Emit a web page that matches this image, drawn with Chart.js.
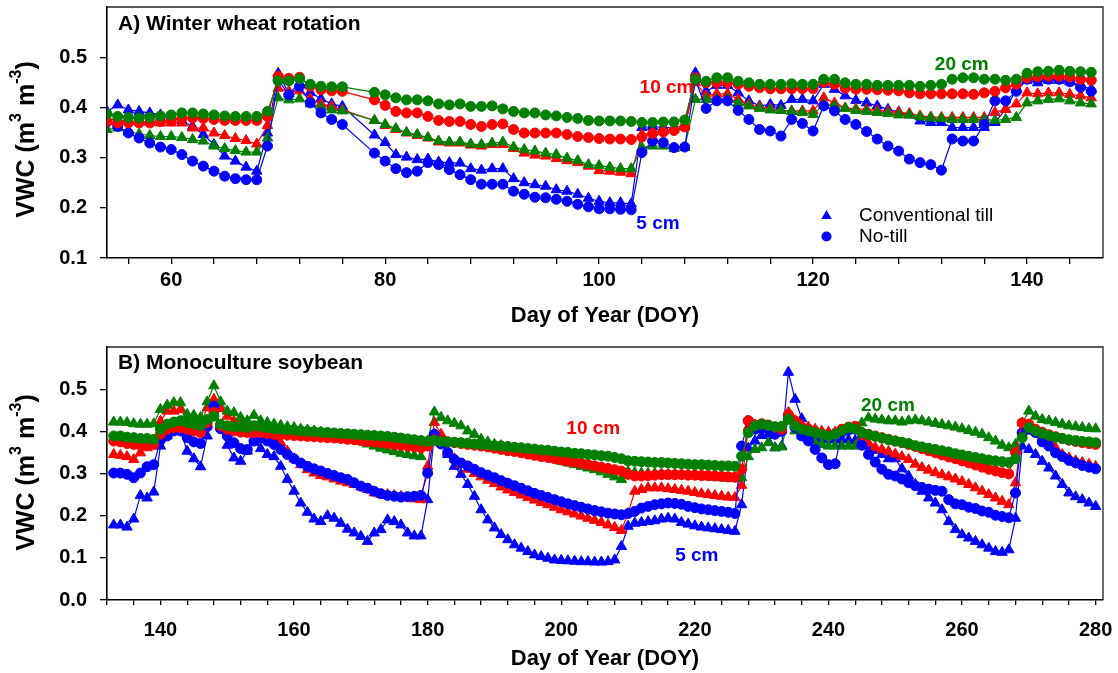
<!DOCTYPE html>
<html>
<head>
<meta charset="utf-8">
<script src="https://cdn.jsdelivr.net/npm/chart.js@4.4.1/dist/chart.umd.min.js"></script>
<style>
  body { margin: 0; background: #fff; width: 1118px; height: 673px; overflow: hidden; }
  .panel { position: absolute; left: 0; width: 1118px; }
  #wrapA { top: 0; height: 335px; }
  #wrapB { top: 335px; height: 338px; }
</style>
</head>
<body>
<div class="panel" id="wrapA"><canvas id="chartA" width="1118" height="335"></canvas></div>
<div class="panel" id="wrapB"><canvas id="chartB" width="1118" height="338"></canvas></div>
<script>
// ---- Panel A: winter wheat rotation (day of year, VWC m3/m3) ----
const daysA = [54,55,56,57,58,59,60,61,62,63,64,65,66,67,68,69,70,71,72,73,74,75,76,
  79,80,81,82,83,84,85,86,87,88,89,90,91,92,93,94,95,96,97,98,99,
  100,101,102,103,104,105,106,107,108,
  109,110,111,112,113,114,115,116,117,118,119,120,121,122,123,124,125,126,127,128,129,130,
  131,132,133,134,135,136,137,138,139,140,141,142,143,144,145,146];

const wheatNT20 = [0.387,0.382,0.380,0.379,0.380,0.383,0.385,0.389,0.389,0.387,0.385,0.383,0.382,0.382,0.382,0.392,0.453,0.453,0.457,0.446,0.442,0.441,0.441,
  0.430,0.425,0.419,0.415,0.415,0.413,0.407,0.405,0.407,0.402,0.402,0.403,0.397,0.392,0.389,0.389,0.385,0.383,0.380,0.378,0.374,
  0.373,0.373,0.373,0.372,0.370,0.370,0.371,0.371,0.375,
  0.456,0.452,0.459,0.459,0.452,0.449,0.446,0.446,0.446,0.447,0.446,0.446,0.456,0.456,0.449,0.446,0.446,0.444,0.444,0.444,0.444,0.442,
  0.444,0.446,0.456,0.459,0.459,0.456,0.456,0.454,0.456,0.468,0.471,0.472,0.474,0.472,0.471,0.470];
const wheatNT10 = [0.372,0.369,0.369,0.369,0.369,0.372,0.373,0.378,0.379,0.378,0.376,0.374,0.374,0.374,0.374,0.382,0.462,0.458,0.460,0.442,0.435,0.433,0.432,
  0.415,0.404,0.392,0.389,0.389,0.382,0.374,0.372,0.372,0.366,0.362,0.366,0.367,0.356,0.349,0.349,0.349,0.349,0.346,0.342,0.340,
  0.338,0.337,0.337,0.336,0.341,0.348,0.351,0.354,0.361,
  0.459,0.449,0.449,0.449,0.446,0.442,0.439,0.437,0.437,0.437,0.437,0.437,0.450,0.446,0.438,0.436,0.436,0.435,0.434,0.433,0.429,0.427,
  0.427,0.427,0.427,0.427,0.426,0.429,0.432,0.439,0.446,0.459,0.461,0.462,0.462,0.461,0.456,0.454];
const wheatNT5 = [0.371,0.362,0.349,0.339,0.329,0.321,0.316,0.306,0.293,0.283,0.273,0.263,0.258,0.256,0.256,0.323,0.455,0.425,0.442,0.409,0.389,0.376,0.366,
  0.309,0.293,0.278,0.270,0.273,0.290,0.286,0.276,0.266,0.256,0.247,0.247,0.247,0.233,0.227,0.221,0.220,0.217,0.213,0.207,0.202,
  0.198,0.198,0.197,0.196,0.310,0.333,0.330,0.320,0.321,
  0.455,0.398,0.413,0.413,0.394,0.376,0.356,0.353,0.343,0.376,0.368,0.353,0.403,0.393,0.376,0.366,0.352,0.337,0.323,0.313,0.297,0.290,
  0.286,0.275,0.337,0.333,0.333,0.366,0.413,0.413,0.432,0.456,0.456,0.456,0.456,0.451,0.440,0.432];
const wheatCT20 = [0.356,0.359,0.352,0.347,0.344,0.342,0.342,0.340,0.336,0.333,0.323,0.318,0.314,0.311,0.311,0.339,0.419,0.415,0.417,0.407,0.400,0.395,0.393,
  0.374,0.366,0.358,0.350,0.346,0.340,0.333,0.331,0.331,0.327,0.326,0.329,0.331,0.321,0.316,0.313,0.309,0.306,0.299,0.294,0.286,
  0.284,0.281,0.278,0.278,0.320,0.323,0.323,0.318,0.320,
  0.416,0.416,0.416,0.418,0.409,0.403,0.398,0.395,0.394,0.392,0.390,0.386,0.406,0.403,0.398,0.394,0.392,0.390,0.388,0.385,0.385,0.381,
  0.379,0.378,0.376,0.376,0.376,0.376,0.374,0.376,0.380,0.409,0.413,0.416,0.417,0.413,0.409,0.407];
const wheatCT10 = [0.376,0.376,0.372,0.372,0.370,0.369,0.369,0.369,0.359,0.359,0.349,0.344,0.338,0.334,0.327,0.364,0.438,0.432,0.433,0.417,0.407,0.402,0.395,
  0.374,0.364,0.356,0.349,0.344,0.339,0.331,0.329,0.329,0.325,0.323,0.326,0.326,0.318,0.309,0.305,0.303,0.298,0.294,0.290,0.283,
  0.274,0.273,0.271,0.268,0.346,0.350,0.353,0.356,0.361,
  0.449,0.423,0.427,0.427,0.416,0.406,0.401,0.398,0.394,0.393,0.393,0.393,0.419,0.409,0.399,0.397,0.396,0.394,0.392,0.390,0.388,0.383,
  0.381,0.380,0.380,0.380,0.380,0.380,0.390,0.396,0.407,0.429,0.427,0.429,0.429,0.426,0.423,0.419];
const wheatCT5 = [0.392,0.405,0.395,0.392,0.389,0.385,0.382,0.374,0.362,0.346,0.326,0.303,0.293,0.281,0.273,0.349,0.468,0.428,0.448,0.430,0.417,0.407,0.402,
  0.345,0.330,0.306,0.301,0.296,0.297,0.291,0.290,0.289,0.278,0.275,0.278,0.278,0.258,0.250,0.246,0.243,0.236,0.233,0.227,0.219,
  0.213,0.210,0.210,0.208,0.360,0.362,0.360,0.360,0.363,
  0.469,0.432,0.444,0.444,0.429,0.413,0.403,0.406,0.404,0.416,0.416,0.413,0.446,0.436,0.423,0.414,0.409,0.403,0.396,0.391,0.385,0.373,
  0.370,0.370,0.360,0.360,0.360,0.360,0.370,0.396,0.436,0.454,0.449,0.454,0.454,0.451,0.444,0.436];

// ---- Panel B: monoculture soybean ----
const daysB = [133,134,135,136,137,138,139,140,141,142,143,144,145,146,147,148,149,150,151,152,
  153,154,155,156,157,158,159,160,161,162,163,164,165,166,167,168,169,170,171,172,
  173,174,175,176,177,178,179,180,181,182,183,184,185,186,187,188,189,190,191,192,
  193,194,195,196,197,198,199,200,201,202,203,204,205,206,207,208,209,210,211,212,
  213,214,215,216,217,218,219,220,221,222,223,224,225,226,227,228,229,230,231,232,
  233,234,235,236,237,238,239,240,241,242,243,244,245,246,247,248,249,250,251,252,
  253,254,255,256,257,258,259,260,261,262,263,264,265,266,267,268,269,270,271,272,
  273,274,275,276,277,278,279,280];

const soyCT5 = [0.178,0.178,0.173,0.192,0.248,0.242,0.256,0.365,0.389,0.401,
  0.401,0.353,0.335,0.316,0.389,0.459,0.413,0.367,0.337,0.329,
  0.353,0.375,0.359,0.345,0.340,0.317,0.286,0.258,0.230,0.208,
  0.192,0.186,0.200,0.194,0.182,0.168,0.159,0.151,0.139,0.159,
  0.167,0.190,0.186,0.178,0.159,0.152,0.152,0.238,0.393,0.375,
  0.345,0.317,0.298,0.274,0.246,0.214,0.190,0.171,0.155,0.143,
  0.131,0.123,0.115,0.107,0.103,0.099,0.095,0.094,0.093,0.092,
  0.091,0.091,0.090,0.090,0.091,0.095,0.127,0.175,0.182,0.184,
  0.186,0.188,0.192,0.194,0.192,0.184,0.180,0.176,0.173,0.171,
  0.169,0.167,0.165,0.163,0.226,0.360,0.377,0.390,0.390,0.361,
  0.365,0.540,0.476,0.430,0.395,0.385,0.382,0.380,0.380,0.380,
  0.380,0.378,0.372,0.365,0.355,0.345,0.335,0.335,0.311,0.294,
  0.274,0.258,0.242,0.230,0.214,0.186,0.167,0.155,0.147,0.139,
  0.131,0.123,0.115,0.113,0.119,0.194,0.365,0.357,0.345,0.329,
  0.313,0.294,0.274,0.254,0.245,0.238,0.230,0.222];
const soyNT5 = [0.301,0.301,0.298,0.290,0.301,0.316,0.321,0.379,0.389,0.401,
  0.401,0.385,0.375,0.371,0.411,0.459,0.406,0.389,0.373,0.359,
  0.357,0.377,0.385,0.377,0.369,0.357,0.345,0.335,0.325,0.317,
  0.311,0.306,0.300,0.295,0.290,0.286,0.278,0.270,0.265,0.258,
  0.252,0.248,0.246,0.244,0.245,0.246,0.248,0.301,0.393,0.370,
  0.350,0.333,0.325,0.318,0.310,0.302,0.296,0.290,0.283,0.277,
  0.271,0.265,0.259,0.253,0.248,0.243,0.238,0.233,0.228,0.224,
  0.220,0.216,0.212,0.209,0.206,0.204,0.202,0.205,0.210,0.218,
  0.222,0.226,0.228,0.230,0.229,0.227,0.222,0.219,0.216,0.214,
  0.212,0.210,0.208,0.205,0.365,0.425,0.405,0.408,0.405,0.393,
  0.400,0.429,0.409,0.389,0.377,0.357,0.337,0.321,0.323,0.397,
  0.403,0.405,0.367,0.345,0.327,0.310,0.298,0.294,0.287,0.278,
  0.271,0.267,0.263,0.260,0.258,0.238,0.228,0.226,0.220,0.217,
  0.211,0.208,0.201,0.198,0.195,0.254,0.397,0.405,0.397,0.375,
  0.365,0.349,0.340,0.331,0.325,0.319,0.315,0.311];
const soyCT10 = [0.345,0.343,0.340,0.333,0.349,0.361,0.367,0.424,0.448,0.448,
  0.452,0.428,0.421,0.417,0.456,0.476,0.454,0.436,0.424,0.417,
  0.409,0.401,0.393,0.389,0.385,0.373,0.353,0.335,0.321,0.309,
  0.301,0.295,0.292,0.287,0.282,0.278,0.274,0.268,0.262,0.254,
  0.250,0.250,0.248,0.246,0.242,0.240,0.238,0.317,0.421,0.393,
  0.350,0.335,0.322,0.310,0.300,0.292,0.284,0.276,0.268,0.261,
  0.255,0.249,0.243,0.237,0.231,0.226,0.220,0.214,0.209,0.204,
  0.199,0.194,0.189,0.184,0.178,0.172,0.165,0.205,0.258,0.262,
  0.266,0.266,0.266,0.264,0.262,0.260,0.258,0.255,0.252,0.250,
  0.248,0.246,0.244,0.243,0.272,0.410,0.415,0.410,0.410,0.405,
  0.405,0.445,0.425,0.415,0.410,0.405,0.400,0.398,0.398,0.402,
  0.405,0.405,0.385,0.372,0.362,0.357,0.352,0.346,0.340,0.333,
  0.322,0.314,0.308,0.302,0.297,0.292,0.287,0.281,0.274,0.266,
  0.258,0.250,0.242,0.234,0.226,0.278,0.400,0.413,0.401,0.389,
  0.377,0.361,0.345,0.337,0.330,0.326,0.322,0.317];
const soyNT10 = [0.377,0.375,0.371,0.369,0.367,0.367,0.369,0.393,0.405,0.409,
  0.409,0.405,0.401,0.397,0.421,0.445,0.413,0.405,0.401,0.398,
  0.397,0.397,0.397,0.395,0.393,0.392,0.391,0.390,0.389,0.388,
  0.387,0.386,0.385,0.384,0.383,0.381,0.380,0.378,0.376,0.375,
  0.373,0.371,0.369,0.367,0.365,0.363,0.361,0.365,0.380,0.377,
  0.375,0.373,0.371,0.369,0.367,0.365,0.363,0.360,0.357,0.354,
  0.352,0.349,0.346,0.343,0.340,0.338,0.335,0.332,0.329,0.327,
  0.324,0.321,0.318,0.315,0.312,0.309,0.306,0.298,0.294,0.294,
  0.295,0.296,0.297,0.297,0.297,0.297,0.296,0.296,0.295,0.295,
  0.294,0.293,0.292,0.291,0.310,0.425,0.415,0.418,0.415,0.410,
  0.405,0.440,0.425,0.410,0.405,0.400,0.395,0.392,0.395,0.405,
  0.410,0.412,0.397,0.393,0.389,0.385,0.381,0.377,0.373,0.369,
  0.364,0.359,0.354,0.349,0.344,0.339,0.335,0.330,0.325,0.320,
  0.315,0.310,0.306,0.302,0.299,0.350,0.420,0.417,0.405,0.398,
  0.392,0.387,0.383,0.379,0.376,0.373,0.371,0.369];
const soyCT20 = [0.422,0.422,0.421,0.418,0.417,0.417,0.418,0.452,0.462,0.468,
  0.468,0.440,0.438,0.433,0.470,0.508,0.470,0.448,0.444,0.433,
  0.425,0.438,0.425,0.421,0.417,0.414,0.411,0.409,0.405,0.403,
  0.401,0.398,0.395,0.392,0.389,0.385,0.381,0.376,0.370,0.365,
  0.360,0.356,0.352,0.348,0.345,0.342,0.340,0.377,0.446,0.433,
  0.425,0.419,0.413,0.401,0.393,0.381,0.375,0.369,0.366,0.363,
  0.359,0.356,0.353,0.348,0.343,0.338,0.334,0.329,0.325,0.321,
  0.317,0.313,0.309,0.304,0.298,0.292,0.286,0.305,0.302,0.301,
  0.300,0.300,0.299,0.298,0.297,0.296,0.295,0.294,0.293,0.292,
  0.291,0.290,0.289,0.288,0.290,0.340,0.357,0.361,0.373,0.361,
  0.363,0.429,0.401,0.389,0.381,0.373,0.369,0.365,0.365,0.365,
  0.365,0.365,0.420,0.432,0.429,0.427,0.425,0.425,0.422,0.425,
  0.427,0.425,0.422,0.419,0.416,0.413,0.410,0.406,0.402,0.398,
  0.393,0.385,0.377,0.367,0.361,0.369,0.420,0.448,0.436,0.428,
  0.425,0.421,0.417,0.413,0.411,0.409,0.407,0.406];
const soyNT20 = [0.389,0.389,0.386,0.385,0.383,0.383,0.381,0.405,0.417,0.422,
  0.425,0.421,0.417,0.414,0.428,0.436,0.417,0.413,0.411,0.411,
  0.409,0.413,0.411,0.409,0.406,0.405,0.404,0.403,0.401,0.400,
  0.399,0.398,0.397,0.396,0.395,0.394,0.393,0.392,0.391,0.390,
  0.389,0.388,0.386,0.384,0.382,0.380,0.378,0.376,0.378,0.376,
  0.375,0.374,0.373,0.372,0.370,0.369,0.368,0.366,0.365,0.364,
  0.362,0.361,0.359,0.358,0.356,0.355,0.353,0.351,0.350,0.348,
  0.347,0.345,0.344,0.342,0.341,0.338,0.335,0.330,0.329,0.328,
  0.327,0.326,0.326,0.325,0.324,0.323,0.322,0.321,0.321,0.320,
  0.319,0.318,0.318,0.317,0.341,0.397,0.413,0.417,0.414,0.411,
  0.412,0.429,0.413,0.405,0.401,0.397,0.393,0.389,0.393,0.401,
  0.409,0.406,0.397,0.392,0.388,0.384,0.380,0.377,0.374,0.371,
  0.366,0.363,0.360,0.357,0.354,0.351,0.347,0.344,0.341,0.338,
  0.335,0.332,0.330,0.328,0.326,0.335,0.385,0.409,0.401,0.395,
  0.390,0.386,0.383,0.380,0.378,0.376,0.375,0.373];

// axis ticks
const xLabelsA = [60, 80, 100, 120, 140];
const xLabelsB = [140, 160, 180, 200, 220, 240, 260, 280];
const yTicksA = [0.1, 0.2, 0.3, 0.4, 0.5];
const yTicksB = [0.0, 0.1, 0.2, 0.3, 0.4, 0.5];

const FONT = '"Liberation Sans", Arial, Helvetica, sans-serif';
const BLUE = '#0000ff', RED = '#ff0000', GREEN = '#008000';

function minorTicks(from, to, step) {
  const out = [];
  for (let v = from; v <= to; v += step) out.push(v);
  return out;
}

function series(label, days, values, color, shape) {
  if (days.length !== values.length) console.error(label, days.length, values.length);
  return {
    label: label,
    data: days.map((d, i) => ({ x: d, y: values[i] })),
    borderColor: color,
    backgroundColor: color,
    borderWidth: 1.2,
    pointStyle: shape,
    pointRadius: shape === 'triangle' ? 6 : 5,
    pointBorderWidth: 1,
    pointBorderColor: color,
    pointBackgroundColor: color,
    tension: 0,
    fill: false
  };
}

function drawMarker(ctx, shape, x, y, r, color) {
  ctx.fillStyle = color;
  ctx.beginPath();
  if (shape === 'triangle') {
    ctx.moveTo(x, y - r);
    ctx.lineTo(x + r * 0.866, y + r * 0.5);
    ctx.lineTo(x - r * 0.866, y + r * 0.5);
    ctx.closePath();
  } else {
    ctx.arc(x, y, r, 0, Math.PI * 2);
  }
  ctx.fill();
}

// rotated "VWC (m3 m-3)" with superscripts
function drawYTitle(ctx, cx, cy) {
  const big = 'bold 25px ' + FONT;
  const small = 'bold 16px ' + FONT;
  const parts = [['VWC (m', big, 0], ['3', small, -10], [' m', big, 0], ['-3', small, -10], [')', big, 0]];
  ctx.save();
  ctx.translate(cx, cy);
  ctx.rotate(-Math.PI / 2);
  let total = 0;
  parts.forEach(p => { ctx.font = p[1]; total += ctx.measureText(p[0]).width; });
  let x = -total / 2;
  ctx.fillStyle = '#000';
  ctx.textAlign = 'left';
  ctx.textBaseline = 'middle';
  parts.forEach(p => {
    ctx.font = p[1];
    ctx.fillText(p[0], x, p[2]);
    x += ctx.measureText(p[0]).width;
  });
  ctx.restore();
}

function panelPlugin(p) {
  return {
    id: 'panelText',
    afterDatasetsDraw(chart) {
      const ctx = chart.ctx, a = chart.chartArea;
      ctx.save();
      ctx.strokeStyle = '#222';
      ctx.lineWidth = 1.3;
      ctx.beginPath();
      ctx.moveTo(a.left, a.top);
      ctx.lineTo(a.right, a.top);
      ctx.lineTo(a.right, a.bottom);
      ctx.stroke();
      ctx.restore();
    },
    afterDraw(chart) {
      const ctx = chart.ctx, a = chart.chartArea;
      const xs = chart.scales.x, ys = chart.scales.y;
      ctx.save();
      ctx.fillStyle = '#000';
      ctx.font = 'bold 21px ' + FONT;
      ctx.textAlign = 'left';
      ctx.textBaseline = 'alphabetic';
      ctx.fillText(p.title, a.left + 11, a.top + p.titleBase);

      ctx.font = 'bold 19px ' + FONT;
      ctx.textAlign = 'center';
      p.depthLabels.forEach(l => {
        ctx.fillStyle = l.color;
        ctx.fillText(l.text, xs.getPixelForValue(l.day), ys.getPixelForValue(l.vwc));
      });

      if (p.legend) {
        drawMarker(ctx, 'triangle', 826.5, 216, 6, BLUE);
        drawMarker(ctx, 'circle', 826.5, 236.5, 5, BLUE);
        ctx.fillStyle = '#000';
        ctx.font = '19px ' + FONT;
        ctx.textAlign = 'left';
        ctx.fillText('Conventional till', 859, 221);
        ctx.fillText('No-till', 859, 242);
      }
      ctx.restore();
      drawYTitle(ctx, 27, (a.top + a.bottom) / 2 + p.yTitleDy);
    }
  };
}

function buildChart(id, p) {
  const datasets = [
    series('No-till 20 cm', p.days, p.nt20, GREEN, 'circle'),
    series('No-till 10 cm', p.days, p.nt10, RED, 'circle'),
    series('No-till 5 cm', p.days, p.nt5, BLUE, 'circle'),
    series('Conventional till 20 cm', p.days, p.ct20, GREEN, 'triangle'),
    series('Conventional till 10 cm', p.days, p.ct10, RED, 'triangle'),
    series('Conventional till 5 cm', p.days, p.ct5, BLUE, 'triangle')
  ];
  const tickFont = { family: FONT, size: 20, weight: 'bold' };
  return new Chart(document.getElementById(id), {
    type: 'line',
    data: { datasets: datasets },
    options: {
      responsive: false,
      animation: false,
      events: [],
      layout: { padding: { top: p.padTop, right: 15, bottom: 0, left: 0 } },
      plugins: { legend: { display: false }, tooltip: { enabled: false } },
      scales: {
        x: {
          type: 'linear',
          min: p.xMin,
          max: p.xMax,
          afterBuildTicks: s => { s.ticks = p.xTicks.map(v => ({ value: v })); },
          afterFit: s => { s.height = p.xAxisHeight; s.paddingLeft = 0; s.paddingRight = 0; },
          grid: { drawOnChartArea: false, tickLength: p.xTickLen, color: '#000', lineWidth: 1.3 },
          border: { color: '#000', width: 1.6 },
          ticks: {
            autoSkip: false, maxRotation: 0, padding: p.xTickPad, color: '#000', font: tickFont,
            callback: v => p.xLabels.includes(v) ? String(v) : ''
          },
          title: {
            display: true, text: 'Day of Year (DOY)', color: '#000',
            font: { family: FONT, size: 22, weight: 'bold' },
            padding: { top: 0, bottom: p.xTitlePad }
          }
        },
        y: {
          type: 'linear',
          min: p.yMin,
          max: 0.6,
          afterBuildTicks: s => { s.ticks = p.yTicks.map(v => ({ value: v })); },
          afterFit: s => { s.width = 107; s.paddingTop = 0; s.paddingBottom = 0; },
          grid: { drawOnChartArea: false, tickLength: 7, color: '#000', lineWidth: 1.3 },
          border: { color: '#000', width: 1.6 },
          ticks: { padding: 13, color: '#000', font: tickFont, callback: v => v.toFixed(1) }
        }
      }
    },
    plugins: [panelPlugin(p)]
  });
}

buildChart('chartA', {
  days: daysA,
  nt20: wheatNT20, nt10: wheatNT10, nt5: wheatNT5,
  ct20: wheatCT20, ct10: wheatCT10, ct5: wheatCT5,
  xMin: 54, xMax: 147.1, xTicks: minorTicks(56, 144, 4), xLabels: xLabelsA,
  yMin: 0.1, yTicks: yTicksA,
  padTop: 5, xAxisHeight: 77, xTickLen: 6, xTickPad: 4, xTitlePad: 6,
  title: 'A) Winter wheat rotation', titleBase: 23, yTitleDy: 7,
  legend: true,
  depthLabels: [
    { text: '10 cm', day: 106.3, vwc: 0.429, color: RED },
    { text: '5 cm', day: 105.5, vwc: 0.157, color: BLUE },
    { text: '20 cm', day: 133.9, vwc: 0.474, color: GREEN }
  ]
});

buildChart('chartB', {
  days: daysB,
  nt20: soyNT20, nt10: soyNT10, nt5: soyNT5,
  ct20: soyCT20, ct10: soyCT10, ct5: soyCT5,
  xMin: 132, xMax: 281.1, xTicks: minorTicks(132, 280, 4), xLabels: xLabelsB,
  yMin: 0.0, yTicks: yTicksB,
  padTop: 12, xAxisHeight: 73, xTickLen: 5, xTickPad: 13, xTitlePad: 1,
  title: 'B) Monoculture soybean', titleBase: 22, yTitleDy: -1,
  legend: false,
  depthLabels: [
    { text: '10 cm', day: 204.8, vwc: 0.393, color: RED },
    { text: '5 cm', day: 220.3, vwc: 0.093, color: BLUE },
    { text: '20 cm', day: 248.9, vwc: 0.448, color: GREEN }
  ]
});
</script>
</body>
</html>
